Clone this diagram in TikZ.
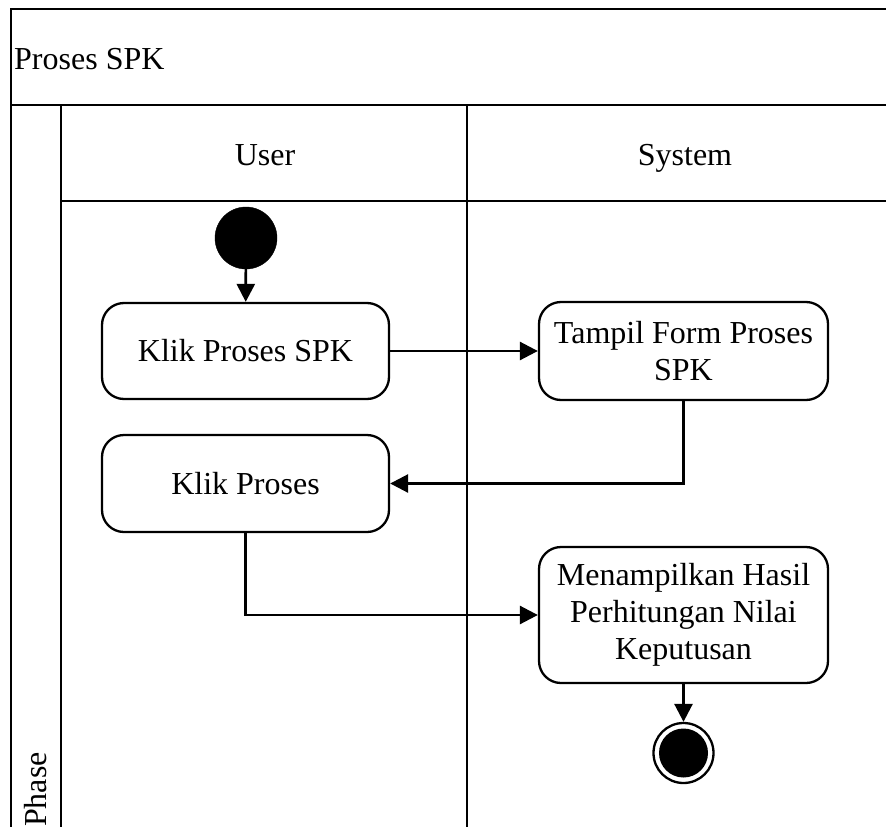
\documentclass[tikz,border=0pt]{standalone}
\usepackage{fontspec}
\setmainfont{Liberation Serif}
\usetikzlibrary{arrows.meta}

\begin{document}
\begin{tikzpicture}[x=1pt, y=-1pt,
  every node/.style={font=\fontsize{32}{37}\selectfont},
  frameline/.style={line width=2.8pt},
  action/.style={draw, line width=2.3pt, rounded corners=22pt, align=center,
    inner sep=0pt, minimum width=#1, fill=white},
  flow/.style={line width=2.7pt, -{Triangle[length=18pt, width=18pt]}},
  startnode/.style={circle, fill=black, draw=black, minimum size=62pt, inner sep=0pt},
  endnode/.style={circle, draw=black, line width=2.3pt, fill=white, minimum size=60pt, inner sep=0pt},
  endcore/.style={circle, fill=black, minimum size=49pt, inner sep=0pt}
]
\useasboundingbox (0,0) rectangle (886,827);
\clip (0,0) rectangle (886,827);
\fill[white] (0,0) rectangle (886,827);

% swimlane frame
\draw[frameline] (920,9) -- (11,9) -- (11,840);
\draw[frameline] (11,105) -- (920,105);
\draw[frameline] (61,105) -- (61,840);
\draw[frameline] (61,201) -- (920,201);
\draw[frameline] (467,105) -- (467,840);

% titles
\node[anchor=base west, inner sep=0pt] (title) at (14,69) {Proses SPK};
\node[anchor=base, inner sep=0pt] (laneuser) at (265,165) {User};
\node[anchor=base, inner sep=0pt] (lanesys) at (685,165) {System};
\node[anchor=base west, inner sep=0pt, rotate=90] (phase) at (46,827) {Phase};

% activity nodes
\node[startnode] (start) at (246,238) {};
\node[action=287pt, minimum height=96pt] (klikspk) at (245.5,351) {Klik Proses SPK};
\node[action=289pt, minimum height=98pt] (formspk) at (683.5,351) {Tampil Form Proses\\SPK};
\node[action=287pt, minimum height=97pt] (klik) at (245.5,483.5) {Klik Proses};
\node[action=289pt, minimum height=136pt] (hasil) at (683.5,615) {Menampilkan Hasil\\Perhitungan Nilai\\Keputusan};
\node[endnode] (final) at (683.5,753) {};
\node[endcore] (finalcore) at (final.center) {};

% control flow
\draw[flow] (start) -- (klikspk);
\draw[flow] (klikspk) -- (formspk);
\draw[flow] (formspk.south) |- (klik.east);
\draw[flow] (klik.south) |- (hasil.west);
\draw[flow] (hasil) -- (final);
\end{tikzpicture}
\end{document}
